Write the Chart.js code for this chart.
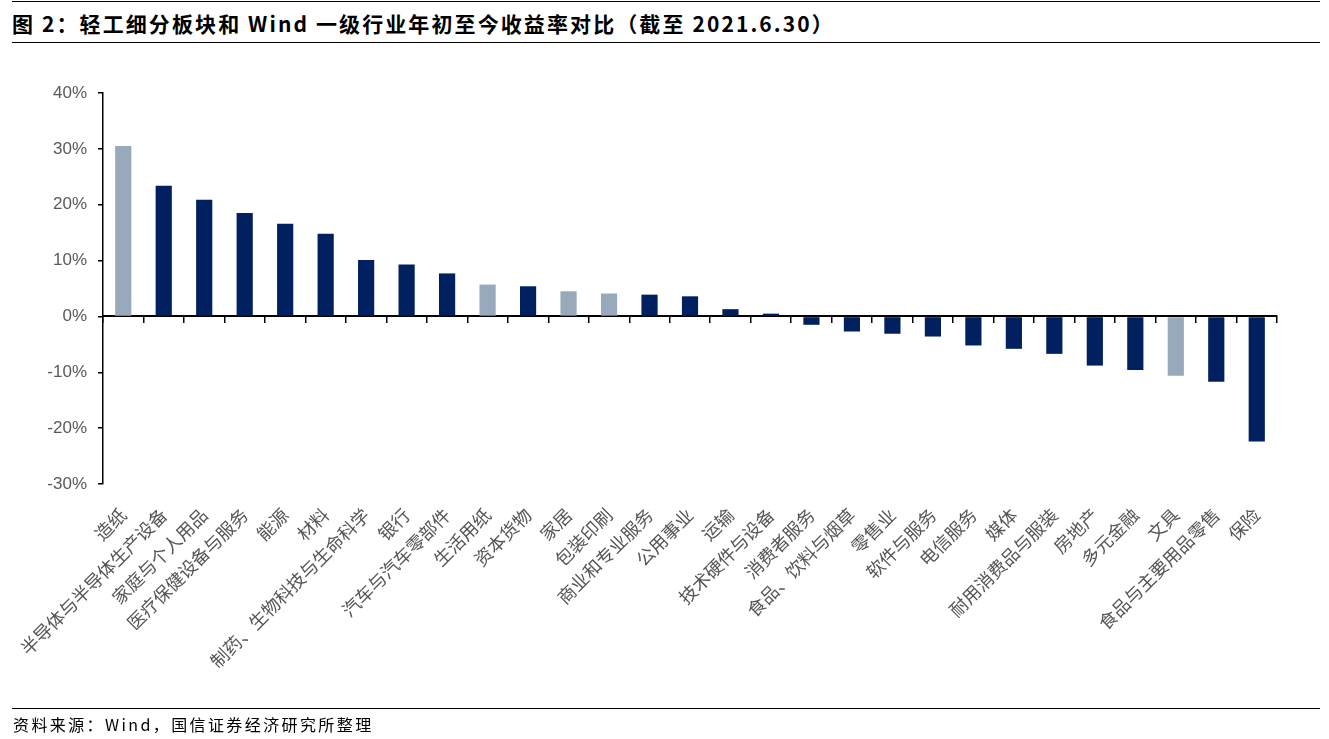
<!DOCTYPE html>
<html>
<head>
<meta charset="utf-8">
<script src="https://cdn.jsdelivr.net/npm/chart.js@4"></script>
<style>
  html, body { margin: 0; padding: 0; background: #fff; }
  body { width: 1329px; height: 739px; position: relative; overflow: hidden; }
  #title {
    position: absolute; left: 12px; top: 8px;
    font-family: "Noto Sans CJK SC", "Liberation Sans", sans-serif;
    font-weight: bold; font-size: 21px; color: #000; white-space: nowrap;
    letter-spacing: 2.1px;
  }
  .rule { position: absolute; left: 12px; width: 1308px; height: 0; border-top: 1.5px solid #000; }
  #source {
    position: absolute; left: 13px; top: 712px;
    font-family: "Noto Sans CJK SC", "Liberation Sans", sans-serif;
    font-size: 16px; color: #000; white-space: nowrap; letter-spacing: 2.4px;
  }
  #wrap { position: absolute; left: 0; top: 0; width: 1329px; height: 739px; }
</style>
</head>
<body>
<div class="rule" style="top:1px"></div>
<div id="title">图 2：轻工细分板块和 Wind 一级行业年初至今收益率对比（截至 2021.6.30）</div>
<div class="rule" style="top:42px"></div>
<div id="wrap"><canvas id="barChart"></canvas></div>
<div class="rule" style="top:708px"></div>
<div id="source">资料来源：Wind，国信证券经济研究所整理</div>

<script>
const categories = [
  "造纸", "半导体与半导体生产设备", "家庭与个人用品", "医疗保健设备与服务", "能源", "材料",
  "制药、生物科技与生命科学", "银行", "汽车与汽车零部件", "生活用纸", "资本货物", "家居",
  "包装印刷", "商业和专业服务", "公用事业", "运输", "技术硬件与设备", "消费者服务",
  "食品、饮料与烟草", "零售业", "软件与服务", "电信服务", "媒体", "耐用消费品与服装",
  "房地产", "多元金融", "文具", "食品与主要用品零售", "保险"
];

// 年初至今收益率 (%)
const returns = [
  30.5, 23.4, 20.9, 18.5, 16.6, 14.8,
  10.1, 9.3, 7.7, 5.7, 5.4, 4.5,
  4.1, 3.9, 3.6, 1.3, 0.5, -1.5,
  -2.7, -3.1, -3.6, -5.2, -5.8, -6.7,
  -8.8, -9.6, -10.6, -11.7, -22.4
];

// 轻工细分板块 (highlighted grey)
const lightIndustry = ["造纸", "生活用纸", "家居", "包装印刷", "文具"];

const yTicks = [-30, -20, -10, 0, 10, 20, 30, 40];

const NAVY = "#002060";
const GREY = "#97a9ba";

const ctx = document.getElementById("barChart").getContext("2d");

new Chart(ctx, {
  type: "bar",
  data: {
    labels: categories,
    datasets: [
      {
        data: returns,
        backgroundColor: categories.map((c) => (lightIndustry.includes(c) ? GREY : NAVY)),
        borderWidth: 0,
        categoryPercentage: 1.0,
        barPercentage: 0.4,
      },
    ],
  },
  options: {
    responsive: true,
    maintainAspectRatio: false,
    animation: false,
    layout: {
      padding: { top: 93, right: 52, bottom: 0, left: 0 },
    },
    plugins: {
      legend: { display: false },
      tooltip: { enabled: false },
    },
    scales: {
      x: {
        position: "bottom",
        grid: { display: false, drawTicks: false },
        border: { display: false },
        ticks: {
          minRotation: 45,
          maxRotation: 45,
          autoSkip: false,
          padding: 20,
          color: "#555555",
          font: { family: "'Noto Sans CJK SC', sans-serif", size: 18 },
        },
        afterFit: (scale) => {
          scale.height = 739 - 484;
        },
      },
      // zero line with category boundary ticks
      x2: {
        type: "category",
        axis: "x",
        labels: categories,
        position: { y: 0 },
        offset: true,
        grid: {
          offset: true,
          drawOnChartArea: false,
          drawTicks: true,
          tickLength: 6,
          color: "#000",
          lineWidth: 1.5,
        },
        border: { display: true, color: "#000", width: 2 },
        ticks: { display: false },
      },
      y: {
        min: -30,
        max: 40,
        afterBuildTicks: (scale) => {
          scale.ticks = yTicks.map((v) => ({ value: v }));
        },
        grid: {
          drawOnChartArea: false,
          drawTicks: true,
          tickLength: 5,
          color: "#000",
          lineWidth: 1.5,
        },
        border: { display: true, color: "#000", width: 1.5 },
        ticks: {
          padding: 11,
          color: "#595959",
          font: { family: "'Liberation Sans', Arial, sans-serif", size: 17 },
          callback: (v) => v + "%",
        },
        afterFit: (scale) => {
          scale.width = 103;
        },
      },
    },
  },
});
</script>
</body>
</html>
